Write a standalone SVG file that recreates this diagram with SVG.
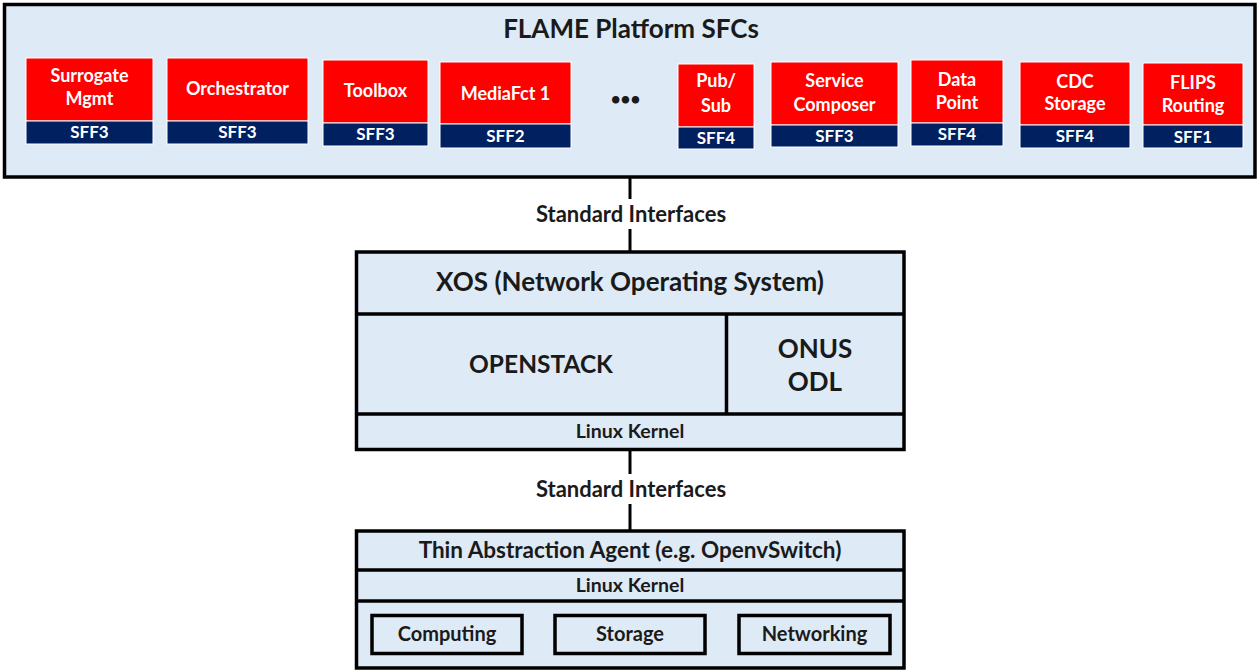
<svg xmlns="http://www.w3.org/2000/svg" width="1259" height="671" viewBox="0 0 1259 671">
<style>
text{font-family:Lato,"Liberation Sans",sans-serif;font-weight:bold;text-anchor:middle}
.panel{fill:#DEEAF6;stroke:#000;stroke-width:3.5}
.div{stroke:#000;stroke-width:3.5;fill:none}
.red{fill:#FF0000;stroke:#fff;stroke-width:1}
.navy{fill:#002060;stroke:#fff;stroke-width:1}
.nl{fill:#fff;font-size:18px}
.sl{fill:#fff;font-size:17px}
.dk{fill:#1a1a1a}
.conn{stroke:#000;stroke-width:3;fill:none}
.inner{fill:#DEEAF6;stroke:#000;stroke-width:3.5}
</style>
<rect width="1259" height="671" fill="#fff"/>
<g id="connectors">
<line class="conn" x1="630" y1="178" x2="630" y2="252"/>
<line class="conn" x1="630" y1="450" x2="630" y2="531"/>
<rect x="525" y="199" width="210" height="30" fill="#fff"/>
<rect x="525" y="474" width="210" height="30" fill="#fff"/>
<text class="dk" x="631" y="222" font-size="22">Standard Interfaces</text>
<text class="dk" x="631" y="497" font-size="22">Standard Interfaces</text>
</g>
<g id="platform">
<rect class="panel" x="4.5" y="4.5" width="1250.5" height="172.5"/>
<text class="dk" x="631" y="38" font-size="26">FLAME Platform SFCs</text>
<text class="dk" x="625.5" y="105" font-size="17">•••</text>
</g>
<g id="surrogate">
<rect class="red" x="26" y="58" width="127" height="63"/>
<rect class="navy" x="26" y="121" width="127" height="23"/>
<text class="nl" x="89.5" y="82">Surrogate</text>
<text class="nl" x="89.5" y="105">Mgmt</text>
<text class="sl" x="89.5" y="138">SFF3</text>
</g>
<g id="orchestrator">
<rect class="red" x="167" y="58" width="141" height="63"/>
<rect class="navy" x="167" y="121" width="141" height="23"/>
<text class="nl" x="237.5" y="95">Orchestrator</text>
<text class="sl" x="237.5" y="138">SFF3</text>
</g>
<g id="toolbox">
<rect class="red" x="323" y="60" width="105" height="63"/>
<rect class="navy" x="323" y="123" width="105" height="23"/>
<text class="nl" x="375.5" y="97">Toolbox</text>
<text class="sl" x="375.5" y="140">SFF3</text>
</g>
<g id="mediafct">
<rect class="red" x="440" y="62" width="131" height="62"/>
<rect class="navy" x="440" y="124" width="131" height="24"/>
<text class="nl" x="505.5" y="100">MediaFct 1</text>
<text class="sl" x="505.5" y="142">SFF2</text>
</g>
<g id="pubsub">
<rect class="red" x="678" y="64" width="76" height="63"/>
<rect class="navy" x="678" y="127" width="76" height="22"/>
<text class="nl" x="716" y="87">Pub/</text>
<text class="nl" x="716" y="112">Sub</text>
<text class="sl" x="716" y="144">SFF4</text>
</g>
<g id="servicecomposer">
<rect class="red" x="771" y="62" width="127" height="63"/>
<rect class="navy" x="771" y="125" width="127" height="22"/>
<text class="nl" x="834.5" y="87">Service</text>
<text class="nl" x="834.5" y="111">Composer</text>
<text class="sl" x="834.5" y="142">SFF3</text>
</g>
<g id="datapoint">
<rect class="red" x="911" y="60" width="92" height="63"/>
<rect class="navy" x="911" y="123" width="92" height="23"/>
<text class="nl" x="957" y="86">Data</text>
<text class="nl" x="957" y="109">Point</text>
<text class="sl" x="957" y="140">SFF4</text>
</g>
<g id="cdcstorage">
<rect class="red" x="1020" y="62" width="110" height="63"/>
<rect class="navy" x="1020" y="125" width="110" height="23"/>
<text class="nl" x="1075" y="88">CDC</text>
<text class="nl" x="1075" y="110">Storage</text>
<text class="sl" x="1075" y="142">SFF4</text>
</g>
<g id="flips">
<rect class="red" x="1143" y="63" width="100" height="62"/>
<rect class="navy" x="1143" y="125" width="100" height="23"/>
<text class="nl" x="1193" y="89">FLIPS</text>
<text class="nl" x="1193" y="112">Routing</text>
<text class="sl" x="1193" y="143">SFF1</text>
</g>
<g id="xos">
<rect class="panel" x="356.5" y="252" width="547.5" height="197.5"/>
<line class="div" x1="356.5" y1="314" x2="904" y2="314"/>
<line class="div" x1="356.5" y1="414" x2="904" y2="414"/>
<line class="div" x1="726.5" y1="314" x2="726.5" y2="414"/>
<text class="dk" x="630" y="291" font-size="26">XOS (Network Operating System)</text>
<text class="dk" x="541" y="373" font-size="24.5">OPENSTACK</text>
<text class="dk" x="815" y="358" font-size="26">ONUS</text>
<text class="dk" x="815" y="391" font-size="26">ODL</text>
<text class="dk" x="630" y="438" font-size="19.5">Linux Kernel</text>
</g>
<g id="host">
<rect class="panel" x="356.5" y="531" width="547.5" height="137"/>
<line class="div" x1="356.5" y1="570" x2="904" y2="570"/>
<line class="div" x1="356.5" y1="601" x2="904" y2="601"/>
<text class="dk" x="630" y="558" font-size="22.5">Thin Abstraction Agent (e.g. OpenvSwitch)</text>
<text class="dk" x="630" y="592" font-size="19.5">Linux Kernel</text>
</g>
<g id="computing">
<rect class="inner" x="372" y="615.5" width="150" height="38"/>
<text class="dk" x="447" y="641" font-size="20">Computing</text>
</g>
<g id="storage">
<rect class="inner" x="555" y="615.5" width="150" height="38"/>
<text class="dk" x="630" y="641" font-size="20">Storage</text>
</g>
<g id="networking">
<rect class="inner" x="739" y="615.5" width="151" height="38"/>
<text class="dk" x="814.5" y="641" font-size="20">Networking</text>
</g>
</svg>
